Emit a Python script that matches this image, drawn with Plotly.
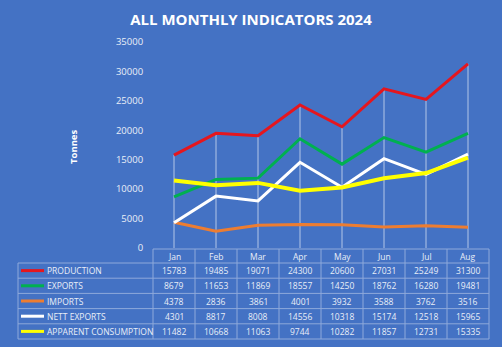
import plotly.graph_objects as go

months = ["Jan", "Feb", "Mar", "Apr", "May", "Jun", "Jul", "Aug"]
production = [15783, 19485, 19071, 24300, 20600, 27031, 25249, 31300]
exports = [8679, 11653, 11869, 18557, 14250, 18762, 16280, 19481]
imports = [4378, 2836, 3861, 4001, 3932, 3588, 3762, 3516]
nett_exports = [4301, 8817, 8008, 14556, 10318, 15174, 12518, 15965]
apparent = [11482, 10668, 11063, 9744, 10282, 11857, 12731, 15335]

series_names = ["PRODUCTION", "EXPORTS", "IMPORTS", "NETT EXPORTS", "APPARENT CONSUMPTION"]
series_values = [production, exports, imports, nett_exports, apparent]
series_colors = ["#E5161E", "#00B050", "#ED7D31", "#FFFFFF", "#FFFF00"]
series_widths = [3, 3, 3, 3, 4]

W, H = 502, 347
ML, MR, MT, MB = 153, 13, 42, 99
PW, PH = W - ML - MR, H - MT - MB
BG = "#4472C4"
BORDER = "#8EA9DB"
TXT = "#E9EEF7"
FONT = "Open Sans"


def px(x):
    return (x - ML) / PW


def py(y):
    return (H - MB - y) / PH


fig = go.Figure()

# drop lines from highest point to axis
shapes = []
for i, m in enumerate(months):
    top = max(v[i] for v in series_values)
    shapes.append(dict(type="line", xref="x", yref="y", x0=m, x1=m, y0=0, y1=top,
                       line=dict(color="rgba(255,255,255,0.6)", width=1), layer="below"))

for name, vals, col, w in zip(series_names, series_values, series_colors, series_widths):
    fig.add_trace(go.Scatter(x=months, y=vals, mode="lines", name=name,
                             line=dict(color=col, width=w), showlegend=False))

# data table
ncol = len(months)
header_top, header_bot = 249, 263
row_h = (339 - 263) / len(series_names)
left_x = 18
row_edges = [header_bot + k * row_h for k in range(len(series_names) + 1)]

annotations = []
# horizontal lines
shapes.append(dict(type="line", xref="paper", yref="paper", x0=px(ML), x1=px(ML + PW),
                   y0=py(header_top), y1=py(header_top), line=dict(color=BORDER, width=1)))
for ye in row_edges:
    shapes.append(dict(type="line", xref="paper", yref="paper", x0=px(left_x), x1=px(ML + PW),
                       y0=py(ye), y1=py(ye), line=dict(color=BORDER, width=1)))
# vertical lines
shapes.append(dict(type="line", xref="paper", yref="paper", x0=px(left_x), x1=px(left_x),
                   y0=py(header_bot), y1=py(row_edges[-1]), line=dict(color=BORDER, width=1)))
for c in range(ncol + 1):
    xx = c / ncol
    shapes.append(dict(type="line", xref="paper", yref="paper", x0=xx, x1=xx,
                       y0=py(header_top), y1=py(row_edges[-1]), line=dict(color=BORDER, width=1)))

# header labels
for c, m in enumerate(months):
    annotations.append(dict(xref="paper", yref="paper", x=(c + 0.5) / ncol,
                            y=py((header_top + header_bot) / 2), text=m, showarrow=False,
                            font=dict(family=FONT, size=8.5, color=TXT), xanchor="center", yanchor="middle"))

for r, (name, vals, col) in enumerate(zip(series_names, series_values, series_colors)):
    yc = py((row_edges[r] + row_edges[r + 1]) / 2)
    shapes.append(dict(type="line", xref="paper", yref="paper", x0=px(21), x1=px(44),
                       y0=yc, y1=yc, line=dict(color=col, width=3)))
    annotations.append(dict(xref="paper", yref="paper", x=px(45), y=yc, text=name, showarrow=False,
                            font=dict(family=FONT, size=8.5, color=TXT), xanchor="left", yanchor="middle"))
    for c, v in enumerate(vals):
        annotations.append(dict(xref="paper", yref="paper", x=(c + 0.5) / ncol, y=yc, text=str(v),
                                showarrow=False, font=dict(family=FONT, size=8.5, color=TXT),
                                xanchor="center", yanchor="middle"))

annotations.append(dict(xref="paper", yref="paper", x=px(73), y=py(147), text="<b>Tonnes</b>",
                        textangle=-90, showarrow=False, font=dict(family=FONT, size=9.5, color="#FFFFFF"),
                        xanchor="center", yanchor="middle"))

fig.update_layout(
    width=W, height=H,
    margin=dict(l=ML, r=MR, t=MT, b=MB, pad=0),
    paper_bgcolor=BG, plot_bgcolor=BG,
    title=dict(text="<b>ALL MONTHLY INDICATORS 2024</b>", x=0.5, xanchor="center",
               y=1 - 20 / H, yanchor="middle",
               font=dict(family=FONT, size=15, color="#FFFFFF")),
    shapes=shapes, annotations=annotations,
    xaxis=dict(showticklabels=False, showgrid=False, zeroline=False, showline=False,
               range=[-0.5, ncol - 0.5], fixedrange=True),
    yaxis=dict(range=[0, 35000], dtick=5000, showgrid=False, zeroline=False, showline=False,
               ticks="outside", ticklen=7, tickcolor=BG,
               tickfont=dict(family=FONT, size=9.5, color=TXT), tickformat="d"),
)

fig.write_html("out.html")
